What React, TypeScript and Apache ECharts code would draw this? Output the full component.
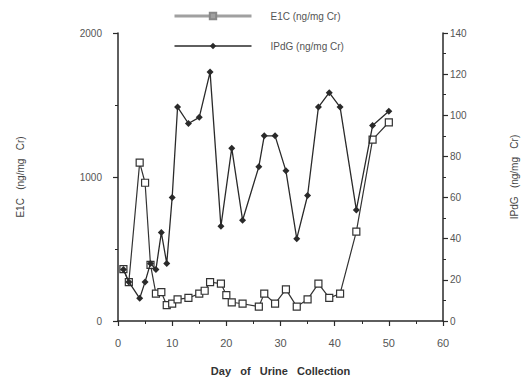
import React, { useEffect, useRef } from "react";
import * as echarts from "echarts";

const e1cDays = [1, 2, 4, 5, 6, 7, 8, 9, 10, 11, 13, 15, 16, 17, 19, 20, 21, 23, 26, 27, 29, 31, 33, 35, 37, 39, 41, 44, 47, 50];
const e1cValues = [360, 270, 1100, 960, 390, 190, 200, 110, 120, 150, 160, 190, 210, 270, 260, 180, 130, 120, 100, 190, 120, 220, 100, 150, 260, 160, 190, 620, 1260, 1380];

const ipdgDays = [1, 2, 4, 5, 6, 7, 8, 9, 10, 11, 13, 15, 17, 19, 21, 23, 26, 27, 29, 31, 33, 35, 37, 39, 41, 44, 47, 50];
const ipdgValues = [25, 19, 11, 19, 28, 25, 43, 28, 60, 104, 96, 99, 121, 46, 84, 49, 75, 90, 90, 73, 40, 61, 104, 111, 104, 54, 95, 102];

const xTicks = [0, 60, 10];
const leftTicks = [0, 2000, 1000];
const rightTicks = [0, 140, 20];

const FONT = "Liberation Sans, Arial, sans-serif";
const INK = "#2a2a2a";

export default function App() {
  const ref = useRef<HTMLDivElement>(null);
  useEffect(() => {
    if (!ref.current) return;
    const chart = echarts.init(ref.current, undefined, { renderer: "svg" });
    const plain = (v: number) => String(v);
    const axisCommon = {
      axisLine: { show: true, lineStyle: { color: INK, width: 1.5 } },
      axisTick: { show: true, length: 5, lineStyle: { color: INK, width: 1.2 } },
      minorTick: { show: true, splitNumber: 2, length: 3, lineStyle: { color: INK, width: 1 } },
      splitLine: { show: false },
      axisLabel: { color: "#555", fontFamily: FONT, fontSize: 10, formatter: plain },
      nameTextStyle: { color: "#444", fontFamily: FONT, fontSize: 10 },
    };
    chart.setOption({
      animation: false,
      backgroundColor: "#fff",
      textStyle: { fontFamily: FONT },
      grid: { left: 118, right: 82, top: 33, bottom: 55 },
      legend: {
        orient: "vertical",
        left: 168,
        top: 6,
        itemWidth: 77,
        itemHeight: 8,
        itemGap: 20,
        textStyle: { color: "#555", fontFamily: FONT, fontSize: 10, padding: [0, 0, 0, 14] },
        data: [
          { name: "E1C (ng/mg Cr)", lineStyle: { color: "#a0a0a0", width: 3 }, itemStyle: { color: "#a0a0a0", borderColor: "#888" } },
          { name: "IPdG (ng/mg Cr)", lineStyle: { color: INK, width: 1.3 }, itemStyle: { color: INK } },
        ],
      },
      xAxis: {
        type: "value",
        min: xTicks[0],
        max: xTicks[1],
        interval: xTicks[2],
        name: "Day   of   Urine   Collection",
        nameLocation: "middle",
        nameGap: 44,
        ...axisCommon,
        axisLabel: { ...axisCommon.axisLabel, margin: 16, fontSize: 11 },
        nameTextStyle: { color: "#333", fontFamily: FONT, fontSize: 11, fontWeight: "bold" },
      },
      yAxis: [
        {
          type: "value",
          position: "left",
          min: leftTicks[0],
          max: leftTicks[1],
          interval: leftTicks[2],
          name: "E1C   (ng/mg   Cr)",
          nameLocation: "middle",
          nameGap: 93,
          nameRotate: 90,
          ...axisCommon,
          axisLabel: { ...axisCommon.axisLabel, margin: 16 },
        },
        {
          type: "value",
          position: "right",
          min: rightTicks[0],
          max: rightTicks[1],
          interval: rightTicks[2],
          name: "IPdG   (ng/mg   Cr)",
          nameLocation: "middle",
          nameGap: 66,
          nameRotate: 90,
          ...axisCommon,
          axisLabel: { ...axisCommon.axisLabel, margin: 7 },
        },
      ],
      series: [
        {
          name: "E1C (ng/mg Cr)",
          type: "line",
          yAxisIndex: 0,
          data: e1cDays.map((d, i) => [d, e1cValues[i]]),
          symbol: "rect",
          symbolSize: 7,
          lineStyle: { color: "#333", width: 1.2 },
          itemStyle: { color: "#fff", borderColor: "#333", borderWidth: 1.2 },
          z: 2,
        },
        {
          name: "IPdG (ng/mg Cr)",
          type: "line",
          yAxisIndex: 1,
          data: ipdgDays.map((d, i) => [d, ipdgValues[i]]),
          symbol: "diamond",
          symbolSize: 7,
          lineStyle: { color: INK, width: 1.3 },
          itemStyle: { color: INK },
          z: 3,
        },
      ],
    });
    return () => chart.dispose();
  }, []);
  return <div ref={ref} style={{ width: 527, height: 381, position: "absolute", left: 0, top: 0 }} />;
}
